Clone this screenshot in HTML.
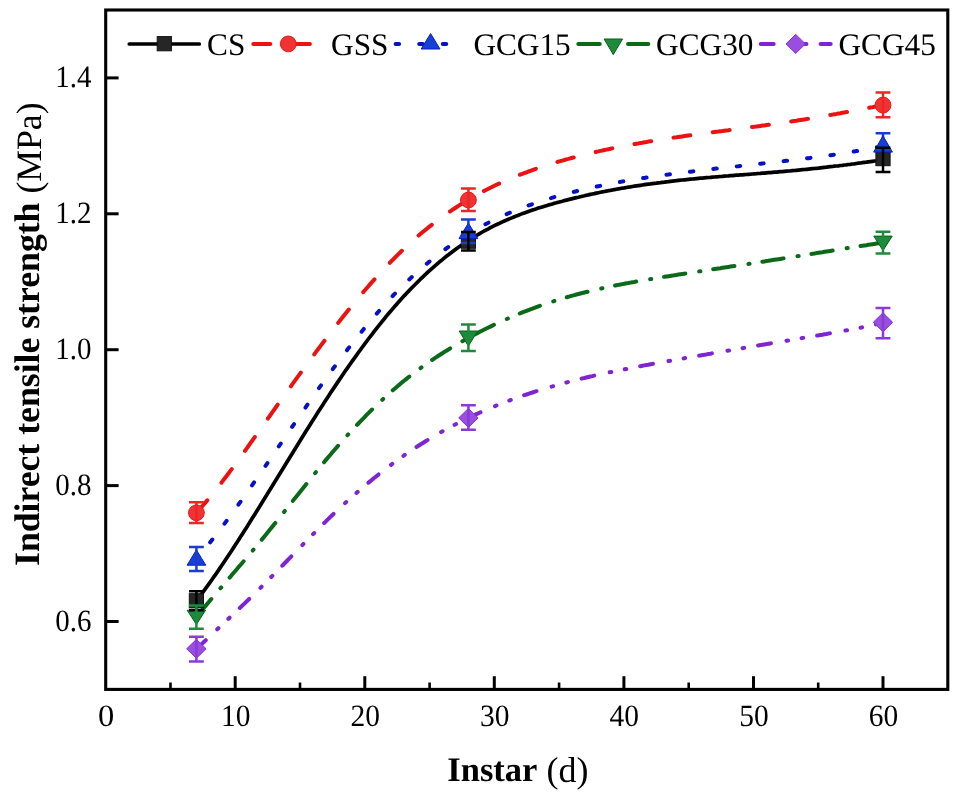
<!DOCTYPE html>
<html><head><meta charset="utf-8"><style>
html,body{margin:0;padding:0;background:#fff;overflow:hidden;}
svg{display:block;filter:blur(0.4px);}
text{font-family:"Liberation Serif",serif;fill:#000;text-rendering:geometricPrecision;}
</style></head><body>
<svg width="963" height="798" viewBox="0 0 963 798">
<rect width="963" height="798" fill="#fff"/>
<path d="M196.4,600.8 L198.4,598.2 200.4,595.5 202.4,592.8 204.4,590.1 206.4,587.4 208.4,584.6 210.4,581.8 212.4,579.0 214.4,576.1 216.4,573.3 218.4,570.4 220.4,567.4 222.4,564.5 224.4,561.5 226.4,558.5 228.4,555.5 230.4,552.5 232.4,549.4 234.4,546.4 236.4,543.3 238.4,540.2 240.4,537.1 242.4,534.0 244.4,530.8 246.4,527.7 248.4,524.5 250.4,521.3 252.4,518.1 254.4,514.9 256.4,511.7 258.4,508.5 260.4,505.3 262.4,502.0 264.4,498.8 266.4,495.5 268.4,492.3 270.4,489.0 272.4,485.8 274.4,482.5 276.4,479.3 278.4,476.0 280.4,472.7 282.4,469.5 284.4,466.2 286.4,463.0 288.4,459.7 290.4,456.5 292.4,453.2 294.4,450.0 296.4,446.7 298.4,443.5 300.4,440.3 302.4,437.0 304.4,433.8 306.4,430.6 308.4,427.4 310.4,424.2 312.4,421.1 314.4,417.9 316.4,414.8 318.4,411.6 320.4,408.5 322.4,405.4 324.4,402.3 326.4,399.2 328.4,396.2 330.4,393.1 332.4,390.1 334.4,387.1 336.4,384.1 338.4,381.1 340.4,378.2 342.4,375.2 344.4,372.3 346.4,369.4 348.4,366.6 350.4,363.7 352.4,360.9 354.4,358.1 356.4,355.3 358.4,352.5 360.4,349.8 362.4,347.0 364.4,344.3 366.4,341.7 368.4,339.0 370.4,336.4 372.4,333.8 374.4,331.2 376.4,328.6 378.4,326.1 380.4,323.6 382.4,321.1 384.4,318.7 386.4,316.2 388.4,313.8 390.4,311.5 392.4,309.1 394.4,306.8 396.4,304.5 398.4,302.3 400.4,300.0 402.4,297.8 404.4,295.6 406.4,293.5 408.4,291.4 410.4,289.3 412.4,287.2 414.4,285.2 416.4,283.2 418.4,281.2 420.4,279.2 422.4,277.3 424.4,275.4 426.4,273.5 428.4,271.7 430.4,269.9 432.4,268.1 434.4,266.3 436.4,264.6 438.4,262.9 440.4,261.2 442.4,259.6 444.4,257.9 446.4,256.3 448.4,254.8 450.4,253.2 452.4,251.7 454.4,250.2 456.4,248.7 458.4,247.3 460.4,245.9 462.4,244.5 464.4,243.1 466.4,241.8 468.4,240.5 470.4,239.2 472.4,238.0 474.4,236.7 476.4,235.5 478.4,234.3 480.4,233.2 482.4,232.0 484.4,230.9 486.4,229.8 488.4,228.8 490.4,227.7 492.4,226.7 494.4,225.7 496.4,224.7 498.4,223.8 500.4,222.8 502.4,221.9 504.4,221.0 506.4,220.1 508.4,219.2 510.4,218.4 512.4,217.6 514.4,216.7 516.4,215.9 518.4,215.2 520.4,214.4 522.4,213.6 524.4,212.9 526.4,212.2 528.4,211.5 530.4,210.8 532.4,210.1 534.4,209.4 536.4,208.8 538.4,208.1 540.4,207.5 542.4,206.9 544.4,206.3 546.4,205.7 548.4,205.1 550.4,204.5 552.4,203.9 554.4,203.3 556.4,202.8 558.4,202.2 560.4,201.7 562.4,201.2 564.4,200.6 566.4,200.1 568.4,199.6 570.4,199.1 572.4,198.6 574.4,198.1 576.4,197.6 578.4,197.2 580.4,196.7 582.4,196.2 584.4,195.8 586.4,195.3 588.4,194.9 590.4,194.4 592.4,194.0 594.4,193.6 596.4,193.1 598.4,192.7 600.4,192.3 602.4,191.9 604.4,191.5 606.4,191.1 608.4,190.7 610.4,190.4 612.4,190.0 614.4,189.6 616.4,189.2 618.4,188.9 620.4,188.5 622.4,188.2 624.4,187.9 626.4,187.5 628.4,187.2 630.4,186.9 632.4,186.5 634.4,186.2 636.4,185.9 638.4,185.6 640.4,185.3 642.4,185.0 644.4,184.7 646.4,184.4 648.4,184.1 650.4,183.9 652.4,183.6 654.4,183.3 656.4,183.1 658.4,182.8 660.4,182.6 662.4,182.3 664.4,182.1 666.4,181.8 668.4,181.6 670.4,181.3 672.4,181.1 674.4,180.9 676.4,180.7 678.4,180.4 680.4,180.2 682.4,180.0 684.4,179.8 686.4,179.6 688.4,179.4 690.4,179.2 692.4,179.0 694.4,178.8 696.4,178.6 698.4,178.4 700.4,178.2 702.4,178.1 704.4,177.9 706.4,177.7 708.4,177.5 710.4,177.4 712.4,177.2 714.4,177.0 716.4,176.8 718.4,176.7 720.4,176.5 722.4,176.4 724.4,176.2 726.4,176.0 728.4,175.9 730.4,175.7 732.4,175.6 734.4,175.4 736.4,175.2 738.4,175.1 740.4,174.9 742.4,174.8 744.4,174.6 746.4,174.5 748.4,174.3 750.4,174.2 752.4,174.0 754.4,173.8 756.4,173.7 758.4,173.5 760.4,173.4 762.4,173.2 764.4,173.1 766.4,172.9 768.4,172.7 770.4,172.6 772.4,172.4 774.4,172.2 776.4,172.1 778.4,171.9 780.4,171.7 782.4,171.6 784.4,171.4 786.4,171.2 788.4,171.0 790.4,170.9 792.4,170.7 794.4,170.5 796.4,170.3 798.4,170.1 800.4,169.9 802.4,169.7 804.4,169.5 806.4,169.3 808.4,169.1 810.4,168.9 812.4,168.7 814.4,168.5 816.4,168.3 818.4,168.1 820.4,167.8 822.4,167.6 824.4,167.4 826.4,167.2 828.4,166.9 830.4,166.7 832.4,166.5 834.4,166.2 836.4,166.0 838.4,165.8 840.4,165.5 842.4,165.3 844.4,165.0 846.4,164.8 848.4,164.5 850.4,164.3 852.4,164.0 854.4,163.8 856.4,163.5 858.4,163.2 860.4,163.0 862.4,162.7 864.4,162.4 866.4,162.2 868.4,161.9 870.4,161.6 872.4,161.3 874.4,161.0 876.4,160.8 878.4,160.5 880.4,160.2 882.4,159.9 883.0,159.8" fill="none" stroke="#000" stroke-width="3.7" stroke-linecap="round" stroke-linejoin="round"/>
<path d="M196.4,512.7 L198.4,510.5 200.4,508.3 202.4,506.0 204.4,503.7 206.4,501.4 208.4,499.0 210.4,496.6 212.4,494.1 214.4,491.6 216.4,489.1 218.4,486.6 220.4,484.0 222.4,481.4 224.4,478.8 226.4,476.2 228.4,473.5 230.4,470.9 232.4,468.2 234.4,465.4 236.4,462.7 238.4,460.0 240.4,457.2 242.4,454.4 244.4,451.6 246.4,448.8 248.4,446.0 250.4,443.2 252.4,440.4 254.4,437.6 256.4,434.8 258.4,431.9 260.4,429.1 262.4,426.3 264.4,423.5 266.4,420.6 268.4,417.8 270.4,415.0 272.4,412.2 274.4,409.4 276.4,406.5 278.4,403.7 280.4,400.9 282.4,398.1 284.4,395.3 286.4,392.5 288.4,389.7 290.4,387.0 292.4,384.2 294.4,381.4 296.4,378.6 298.4,375.9 300.4,373.1 302.4,370.4 304.4,367.6 306.4,364.9 308.4,362.2 310.4,359.5 312.4,356.8 314.4,354.1 316.4,351.4 318.4,348.7 320.4,346.1 322.4,343.4 324.4,340.8 326.4,338.1 328.4,335.5 330.4,332.9 332.4,330.3 334.4,327.7 336.4,325.2 338.4,322.6 340.4,320.1 342.4,317.5 344.4,315.0 346.4,312.5 348.4,310.0 350.4,307.6 352.4,305.1 354.4,302.7 356.4,300.3 358.4,297.9 360.4,295.5 362.4,293.1 364.4,290.8 366.4,288.5 368.4,286.2 370.4,283.9 372.4,281.6 374.4,279.4 376.4,277.1 378.4,274.9 380.4,272.7 382.4,270.6 384.4,268.4 386.4,266.3 388.4,264.2 390.4,262.2 392.4,260.1 394.4,258.1 396.4,256.1 398.4,254.1 400.4,252.2 402.4,250.2 404.4,248.3 406.4,246.5 408.4,244.6 410.4,242.8 412.4,241.0 414.4,239.2 416.4,237.5 418.4,235.7 420.4,234.0 422.4,232.3 424.4,230.7 426.4,229.1 428.4,227.4 430.4,225.9 432.4,224.3 434.4,222.7 436.4,221.2 438.4,219.7 440.4,218.2 442.4,216.8 444.4,215.3 446.4,213.9 448.4,212.5 450.4,211.2 452.4,209.8 454.4,208.5 456.4,207.2 458.4,205.9 460.4,204.6 462.4,203.3 464.4,202.1 466.4,200.9 468.4,199.7 470.4,198.5 472.4,197.4 474.4,196.2 476.4,195.1 478.4,194.0 480.4,192.9 482.4,191.9 484.4,190.8 486.4,189.8 488.4,188.8 490.4,187.8 492.4,186.8 494.4,185.8 496.4,184.8 498.4,183.9 500.4,183.0 502.4,182.1 504.4,181.2 506.4,180.3 508.4,179.4 510.4,178.6 512.4,177.8 514.4,176.9 516.4,176.1 518.4,175.3 520.4,174.5 522.4,173.8 524.4,173.0 526.4,172.3 528.4,171.5 530.4,170.8 532.4,170.1 534.4,169.4 536.4,168.7 538.4,168.0 540.4,167.3 542.4,166.7 544.4,166.0 546.4,165.4 548.4,164.7 550.4,164.1 552.4,163.5 554.4,162.9 556.4,162.3 558.4,161.7 560.4,161.1 562.4,160.6 564.4,160.0 566.4,159.4 568.4,158.9 570.4,158.3 572.4,157.8 574.4,157.3 576.4,156.7 578.4,156.2 580.4,155.7 582.4,155.2 584.4,154.7 586.4,154.2 588.4,153.7 590.4,153.2 592.4,152.8 594.4,152.3 596.4,151.8 598.4,151.4 600.4,150.9 602.4,150.5 604.4,150.0 606.4,149.6 608.4,149.2 610.4,148.8 612.4,148.3 614.4,147.9 616.4,147.5 618.4,147.1 620.4,146.7 622.4,146.3 624.4,145.9 626.4,145.6 628.4,145.2 630.4,144.8 632.4,144.4 634.4,144.1 636.4,143.7 638.4,143.4 640.4,143.0 642.4,142.7 644.4,142.3 646.4,142.0 648.4,141.6 650.4,141.3 652.4,141.0 654.4,140.6 656.4,140.3 658.4,140.0 660.4,139.7 662.4,139.4 664.4,139.1 666.4,138.7 668.4,138.4 670.4,138.1 672.4,137.8 674.4,137.5 676.4,137.3 678.4,137.0 680.4,136.7 682.4,136.4 684.4,136.1 686.4,135.8 688.4,135.5 690.4,135.3 692.4,135.0 694.4,134.7 696.4,134.4 698.4,134.2 700.4,133.9 702.4,133.6 704.4,133.3 706.4,133.1 708.4,132.8 710.4,132.5 712.4,132.3 714.4,132.0 716.4,131.7 718.4,131.5 720.4,131.2 722.4,131.0 724.4,130.7 726.4,130.4 728.4,130.2 730.4,129.9 732.4,129.6 734.4,129.4 736.4,129.1 738.4,128.9 740.4,128.6 742.4,128.3 744.4,128.1 746.4,127.8 748.4,127.5 750.4,127.3 752.4,127.0 754.4,126.7 756.4,126.5 758.4,126.2 760.4,125.9 762.4,125.6 764.4,125.4 766.4,125.1 768.4,124.8 770.4,124.5 772.4,124.2 774.4,124.0 776.4,123.7 778.4,123.4 780.4,123.1 782.4,122.8 784.4,122.5 786.4,122.2 788.4,121.9 790.4,121.6 792.4,121.3 794.4,121.0 796.4,120.7 798.4,120.3 800.4,120.0 802.4,119.7 804.4,119.4 806.4,119.1 808.4,118.7 810.4,118.4 812.4,118.1 814.4,117.7 816.4,117.4 818.4,117.0 820.4,116.7 822.4,116.4 824.4,116.0 826.4,115.7 828.4,115.3 830.4,115.0 832.4,114.6 834.4,114.2 836.4,113.9 838.4,113.5 840.4,113.2 842.4,112.8 844.4,112.4 846.4,112.1 848.4,111.7 850.4,111.3 852.4,110.9 854.4,110.6 856.4,110.2 858.4,109.8 860.4,109.4 862.4,109.1 864.4,108.7 866.4,108.3 868.4,107.9 870.4,107.5 872.4,107.2 874.4,106.8 876.4,106.4 878.4,106.0 880.4,105.6 882.4,105.2 883.0,105.1" fill="none" stroke="#ec1212" stroke-width="4" stroke-linecap="round" stroke-linejoin="round" stroke-dasharray="17 22.6" stroke-dashoffset="0.5"/>
<path d="M196.4,559.1 L198.4,556.7 200.4,554.3 202.4,551.9 204.4,549.5 206.4,547.0 208.4,544.5 210.4,542.0 212.4,539.5 214.4,536.9 216.4,534.3 218.4,531.7 220.4,529.1 222.4,526.4 224.4,523.8 226.4,521.1 228.4,518.4 230.4,515.7 232.4,512.9 234.4,510.2 236.4,507.4 238.4,504.6 240.4,501.9 242.4,499.0 244.4,496.2 246.4,493.4 248.4,490.6 250.4,487.7 252.4,484.8 254.4,482.0 256.4,479.1 258.4,476.2 260.4,473.3 262.4,470.4 264.4,467.5 266.4,464.6 268.4,461.7 270.4,458.7 272.4,455.8 274.4,452.9 276.4,450.0 278.4,447.0 280.4,444.1 282.4,441.2 284.4,438.2 286.4,435.3 288.4,432.4 290.4,429.4 292.4,426.5 294.4,423.6 296.4,420.7 298.4,417.8 300.4,414.9 302.4,412.0 304.4,409.1 306.4,406.2 308.4,403.3 310.4,400.4 312.4,397.6 314.4,394.7 316.4,391.9 318.4,389.0 320.4,386.2 322.4,383.4 324.4,380.6 326.4,377.9 328.4,375.1 330.4,372.3 332.4,369.6 334.4,366.9 336.4,364.2 338.4,361.5 340.4,358.8 342.4,356.2 344.4,353.5 346.4,350.9 348.4,348.3 350.4,345.8 352.4,343.2 354.4,340.7 356.4,338.1 358.4,335.6 360.4,333.1 362.4,330.7 364.4,328.2 366.4,325.8 368.4,323.4 370.4,321.0 372.4,318.7 374.4,316.3 376.4,314.0 378.4,311.7 380.4,309.5 382.4,307.2 384.4,305.0 386.4,302.8 388.4,300.6 390.4,298.5 392.4,296.3 394.4,294.2 396.4,292.2 398.4,290.1 400.4,288.1 402.4,286.1 404.4,284.1 406.4,282.2 408.4,280.3 410.4,278.4 412.4,276.5 414.4,274.6 416.4,272.8 418.4,271.0 420.4,269.3 422.4,267.5 424.4,265.8 426.4,264.1 428.4,262.4 430.4,260.8 432.4,259.2 434.4,257.6 436.4,256.0 438.4,254.4 440.4,252.9 442.4,251.4 444.4,249.9 446.4,248.4 448.4,247.0 450.4,245.6 452.4,244.2 454.4,242.8 456.4,241.5 458.4,240.1 460.4,238.8 462.4,237.5 464.4,236.3 466.4,235.0 468.4,233.8 470.4,232.6 472.4,231.4 474.4,230.3 476.4,229.1 478.4,228.0 480.4,226.9 482.4,225.8 484.4,224.7 486.4,223.7 488.4,222.7 490.4,221.6 492.4,220.7 494.4,219.7 496.4,218.7 498.4,217.8 500.4,216.8 502.4,215.9 504.4,215.0 506.4,214.2 508.4,213.3 510.4,212.5 512.4,211.6 514.4,210.8 516.4,210.0 518.4,209.2 520.4,208.4 522.4,207.7 524.4,206.9 526.4,206.2 528.4,205.5 530.4,204.8 532.4,204.1 534.4,203.4 536.4,202.7 538.4,202.0 540.4,201.4 542.4,200.7 544.4,200.1 546.4,199.5 548.4,198.9 550.4,198.3 552.4,197.7 554.4,197.1 556.4,196.5 558.4,196.0 560.4,195.4 562.4,194.8 564.4,194.3 566.4,193.8 568.4,193.2 570.4,192.7 572.4,192.2 574.4,191.7 576.4,191.2 578.4,190.7 580.4,190.2 582.4,189.8 584.4,189.3 586.4,188.8 588.4,188.4 590.4,187.9 592.4,187.5 594.4,187.0 596.4,186.6 598.4,186.2 600.4,185.8 602.4,185.4 604.4,184.9 606.4,184.5 608.4,184.1 610.4,183.8 612.4,183.4 614.4,183.0 616.4,182.6 618.4,182.3 620.4,181.9 622.4,181.5 624.4,181.2 626.4,180.8 628.4,180.5 630.4,180.2 632.4,179.8 634.4,179.5 636.4,179.2 638.4,178.8 640.4,178.5 642.4,178.2 644.4,177.9 646.4,177.6 648.4,177.3 650.4,177.0 652.4,176.7 654.4,176.4 656.4,176.1 658.4,175.8 660.4,175.6 662.4,175.3 664.4,175.0 666.4,174.7 668.4,174.5 670.4,174.2 672.4,173.9 674.4,173.7 676.4,173.4 678.4,173.2 680.4,172.9 682.4,172.7 684.4,172.4 686.4,172.2 688.4,171.9 690.4,171.7 692.4,171.4 694.4,171.2 696.4,170.9 698.4,170.7 700.4,170.5 702.4,170.2 704.4,170.0 706.4,169.8 708.4,169.5 710.4,169.3 712.4,169.1 714.4,168.8 716.4,168.6 718.4,168.4 720.4,168.2 722.4,167.9 724.4,167.7 726.4,167.5 728.4,167.3 730.4,167.0 732.4,166.8 734.4,166.6 736.4,166.4 738.4,166.2 740.4,165.9 742.4,165.7 744.4,165.5 746.4,165.3 748.4,165.1 750.4,164.8 752.4,164.6 754.4,164.4 756.4,164.2 758.4,164.0 760.4,163.7 762.4,163.5 764.4,163.3 766.4,163.1 768.4,162.9 770.4,162.6 772.4,162.4 774.4,162.2 776.4,162.0 778.4,161.7 780.4,161.5 782.4,161.3 784.4,161.0 786.4,160.8 788.4,160.6 790.4,160.3 792.4,160.1 794.4,159.9 796.4,159.6 798.4,159.4 800.4,159.1 802.4,158.9 804.4,158.7 806.4,158.4 808.4,158.2 810.4,157.9 812.4,157.6 814.4,157.4 816.4,157.1 818.4,156.9 820.4,156.6 822.4,156.3 824.4,156.0 826.4,155.8 828.4,155.5 830.4,155.2 832.4,154.9 834.4,154.6 836.4,154.3 838.4,154.0 840.4,153.7 842.4,153.4 844.4,153.1 846.4,152.8 848.4,152.4 850.4,152.1 852.4,151.8 854.4,151.4 856.4,151.1 858.4,150.8 860.4,150.4 862.4,150.0 864.4,149.7 866.4,149.3 868.4,148.9 870.4,148.6 872.4,148.2 874.4,147.8 876.4,147.4 878.4,147.0 880.4,146.5 882.4,146.1 883.0,146.0" fill="none" stroke="#0510c8" stroke-width="4" stroke-linecap="round" stroke-linejoin="round" stroke-dasharray="3.5 20.09" stroke-dashoffset="1.89"/>
<path d="M196.4,617.1 L198.4,614.6 200.4,612.2 202.4,609.7 204.4,607.3 206.4,604.9 208.4,602.5 210.4,600.1 212.4,597.8 214.4,595.4 216.4,593.0 218.4,590.7 220.4,588.3 222.4,586.0 224.4,583.7 226.4,581.3 228.4,579.0 230.4,576.7 232.4,574.3 234.4,572.0 236.4,569.7 238.4,567.3 240.4,565.0 242.4,562.7 244.4,560.3 246.4,558.0 248.4,555.6 250.4,553.3 252.4,550.9 254.4,548.5 256.4,546.1 258.4,543.7 260.4,541.3 262.4,538.9 264.4,536.4 266.4,534.0 268.4,531.5 270.4,529.0 272.4,526.6 274.4,524.1 276.4,521.6 278.4,519.1 280.4,516.6 282.4,514.1 284.4,511.5 286.4,509.0 288.4,506.5 290.4,504.0 292.4,501.5 294.4,498.9 296.4,496.4 298.4,493.9 300.4,491.4 302.4,488.9 304.4,486.4 306.4,483.9 308.4,481.4 310.4,478.9 312.4,476.4 314.4,474.0 316.4,471.5 318.4,469.1 320.4,466.6 322.4,464.2 324.4,461.8 326.4,459.4 328.4,457.0 330.4,454.7 332.4,452.3 334.4,450.0 336.4,447.7 338.4,445.4 340.4,443.1 342.4,440.9 344.4,438.6 346.4,436.4 348.4,434.2 350.4,432.0 352.4,429.9 354.4,427.7 356.4,425.6 358.4,423.5 360.4,421.4 362.4,419.3 364.4,417.3 366.4,415.2 368.4,413.2 370.4,411.2 372.4,409.2 374.4,407.3 376.4,405.4 378.4,403.4 380.4,401.6 382.4,399.7 384.4,397.8 386.4,396.0 388.4,394.2 390.4,392.4 392.4,390.6 394.4,388.9 396.4,387.2 398.4,385.5 400.4,383.8 402.4,382.1 404.4,380.5 406.4,378.9 408.4,377.3 410.4,375.7 412.4,374.2 414.4,372.7 416.4,371.1 418.4,369.7 420.4,368.2 422.4,366.7 424.4,365.3 426.4,363.9 428.4,362.5 430.4,361.1 432.4,359.8 434.4,358.4 436.4,357.1 438.4,355.8 440.4,354.5 442.4,353.2 444.4,351.9 446.4,350.7 448.4,349.5 450.4,348.2 452.4,347.0 454.4,345.9 456.4,344.7 458.4,343.5 460.4,342.4 462.4,341.2 464.4,340.1 466.4,339.0 468.4,337.9 470.4,336.8 472.4,335.7 474.4,334.7 476.4,333.6 478.4,332.6 480.4,331.5 482.4,330.5 484.4,329.5 486.4,328.5 488.4,327.5 490.4,326.6 492.4,325.6 494.4,324.6 496.4,323.7 498.4,322.8 500.4,321.9 502.4,320.9 504.4,320.0 506.4,319.2 508.4,318.3 510.4,317.4 512.4,316.6 514.4,315.7 516.4,314.9 518.4,314.1 520.4,313.2 522.4,312.4 524.4,311.6 526.4,310.9 528.4,310.1 530.4,309.3 532.4,308.6 534.4,307.8 536.4,307.1 538.4,306.4 540.4,305.7 542.4,305.0 544.4,304.3 546.4,303.6 548.4,302.9 550.4,302.3 552.4,301.6 554.4,301.0 556.4,300.3 558.4,299.7 560.4,299.1 562.4,298.5 564.4,297.9 566.4,297.3 568.4,296.8 570.4,296.2 572.4,295.6 574.4,295.1 576.4,294.5 578.4,294.0 580.4,293.5 582.4,293.0 584.4,292.5 586.4,292.0 588.4,291.5 590.4,291.0 592.4,290.5 594.4,290.0 596.4,289.6 598.4,289.1 600.4,288.7 602.4,288.2 604.4,287.8 606.4,287.3 608.4,286.9 610.4,286.5 612.4,286.1 614.4,285.7 616.4,285.3 618.4,284.9 620.4,284.5 622.4,284.1 624.4,283.7 626.4,283.3 628.4,283.0 630.4,282.6 632.4,282.2 634.4,281.9 636.4,281.5 638.4,281.2 640.4,280.8 642.4,280.5 644.4,280.1 646.4,279.8 648.4,279.4 650.4,279.1 652.4,278.8 654.4,278.4 656.4,278.1 658.4,277.8 660.4,277.5 662.4,277.1 664.4,276.8 666.4,276.5 668.4,276.2 670.4,275.9 672.4,275.6 674.4,275.2 676.4,274.9 678.4,274.6 680.4,274.3 682.4,274.0 684.4,273.7 686.4,273.4 688.4,273.1 690.4,272.8 692.4,272.5 694.4,272.1 696.4,271.8 698.4,271.5 700.4,271.2 702.4,270.9 704.4,270.6 706.4,270.3 708.4,270.0 710.4,269.7 712.4,269.4 714.4,269.1 716.4,268.8 718.4,268.5 720.4,268.2 722.4,267.8 724.4,267.5 726.4,267.2 728.4,266.9 730.4,266.6 732.4,266.3 734.4,266.0 736.4,265.7 738.4,265.4 740.4,265.1 742.4,264.8 744.4,264.5 746.4,264.2 748.4,263.9 750.4,263.5 752.4,263.2 754.4,262.9 756.4,262.6 758.4,262.3 760.4,262.0 762.4,261.7 764.4,261.4 766.4,261.1 768.4,260.8 770.4,260.4 772.4,260.1 774.4,259.8 776.4,259.5 778.4,259.2 780.4,258.9 782.4,258.6 784.4,258.2 786.4,257.9 788.4,257.6 790.4,257.3 792.4,257.0 794.4,256.7 796.4,256.3 798.4,256.0 800.4,255.7 802.4,255.4 804.4,255.1 806.4,254.7 808.4,254.4 810.4,254.1 812.4,253.8 814.4,253.5 816.4,253.1 818.4,252.8 820.4,252.5 822.4,252.2 824.4,251.8 826.4,251.5 828.4,251.2 830.4,250.9 832.4,250.6 834.4,250.2 836.4,249.9 838.4,249.6 840.4,249.3 842.4,248.9 844.4,248.6 846.4,248.3 848.4,248.0 850.4,247.7 852.4,247.4 854.4,247.0 856.4,246.7 858.4,246.4 860.4,246.1 862.4,245.8 864.4,245.5 866.4,245.2 868.4,244.8 870.4,244.5 872.4,244.2 874.4,243.9 876.4,243.6 878.4,243.3 880.4,243.0 882.4,242.7 883.0,242.6" fill="none" stroke="#0b6a18" stroke-width="4" stroke-linecap="round" stroke-linejoin="round" stroke-dasharray="21.5 14.09 1.2 12.94" stroke-dashoffset="-1.9"/>
<path d="M196.4,649.2 L198.4,647.3 200.4,645.3 202.4,643.4 204.4,641.5 206.4,639.6 208.4,637.7 210.4,635.8 212.4,633.9 214.4,632.0 216.4,630.1 218.4,628.2 220.4,626.4 222.4,624.5 224.4,622.6 226.4,620.7 228.4,618.8 230.4,616.9 232.4,615.0 234.4,613.1 236.4,611.2 238.4,609.3 240.4,607.4 242.4,605.5 244.4,603.6 246.4,601.6 248.4,599.7 250.4,597.8 252.4,595.8 254.4,593.9 256.4,591.9 258.4,589.9 260.4,587.9 262.4,585.9 264.4,583.9 266.4,581.9 268.4,579.9 270.4,577.9 272.4,575.8 274.4,573.8 276.4,571.8 278.4,569.7 280.4,567.7 282.4,565.6 284.4,563.5 286.4,561.5 288.4,559.4 290.4,557.3 292.4,555.3 294.4,553.2 296.4,551.2 298.4,549.1 300.4,547.0 302.4,545.0 304.4,542.9 306.4,540.9 308.4,538.8 310.4,536.8 312.4,534.8 314.4,532.8 316.4,530.7 318.4,528.7 320.4,526.7 322.4,524.8 324.4,522.8 326.4,520.8 328.4,518.9 330.4,516.9 332.4,515.0 334.4,513.1 336.4,511.2 338.4,509.3 340.4,507.4 342.4,505.6 344.4,503.7 346.4,501.9 348.4,500.1 350.4,498.3 352.4,496.5 354.4,494.7 356.4,493.0 358.4,491.2 360.4,489.5 362.4,487.8 364.4,486.1 366.4,484.4 368.4,482.7 370.4,481.1 372.4,479.4 374.4,477.8 376.4,476.2 378.4,474.6 380.4,473.0 382.4,471.4 384.4,469.9 386.4,468.3 388.4,466.8 390.4,465.3 392.4,463.8 394.4,462.3 396.4,460.9 398.4,459.4 400.4,458.0 402.4,456.6 404.4,455.2 406.4,453.8 408.4,452.4 410.4,451.1 412.4,449.7 414.4,448.4 416.4,447.1 418.4,445.8 420.4,444.5 422.4,443.3 424.4,442.0 426.4,440.8 428.4,439.6 430.4,438.4 432.4,437.2 434.4,436.0 436.4,434.8 438.4,433.7 440.4,432.5 442.4,431.4 444.4,430.3 446.4,429.2 448.4,428.1 450.4,427.0 452.4,426.0 454.4,424.9 456.4,423.9 458.4,422.8 460.4,421.8 462.4,420.8 464.4,419.8 466.4,418.9 468.4,417.9 470.4,416.9 472.4,416.0 474.4,415.1 476.4,414.1 478.4,413.2 480.4,412.3 482.4,411.5 484.4,410.6 486.4,409.7 488.4,408.9 490.4,408.0 492.4,407.2 494.4,406.4 496.4,405.5 498.4,404.7 500.4,403.9 502.4,403.2 504.4,402.4 506.4,401.6 508.4,400.9 510.4,400.1 512.4,399.4 514.4,398.6 516.4,397.9 518.4,397.2 520.4,396.5 522.4,395.8 524.4,395.1 526.4,394.5 528.4,393.8 530.4,393.1 532.4,392.5 534.4,391.8 536.4,391.2 538.4,390.6 540.4,389.9 542.4,389.3 544.4,388.7 546.4,388.1 548.4,387.5 550.4,386.9 552.4,386.4 554.4,385.8 556.4,385.2 558.4,384.7 560.4,384.1 562.4,383.6 564.4,383.0 566.4,382.5 568.4,382.0 570.4,381.5 572.4,380.9 574.4,380.4 576.4,379.9 578.4,379.4 580.4,378.9 582.4,378.4 584.4,378.0 586.4,377.5 588.4,377.0 590.4,376.5 592.4,376.1 594.4,375.6 596.4,375.2 598.4,374.7 600.4,374.3 602.4,373.8 604.4,373.4 606.4,373.0 608.4,372.5 610.4,372.1 612.4,371.7 614.4,371.3 616.4,370.9 618.4,370.5 620.4,370.1 622.4,369.7 624.4,369.3 626.4,368.9 628.4,368.5 630.4,368.1 632.4,367.7 634.4,367.3 636.4,366.9 638.4,366.5 640.4,366.2 642.4,365.8 644.4,365.4 646.4,365.0 648.4,364.7 650.4,364.3 652.4,363.9 654.4,363.6 656.4,363.2 658.4,362.9 660.4,362.5 662.4,362.1 664.4,361.8 666.4,361.4 668.4,361.1 670.4,360.7 672.4,360.4 674.4,360.0 676.4,359.6 678.4,359.3 680.4,358.9 682.4,358.6 684.4,358.2 686.4,357.9 688.4,357.5 690.4,357.2 692.4,356.8 694.4,356.5 696.4,356.1 698.4,355.8 700.4,355.4 702.4,355.1 704.4,354.7 706.4,354.4 708.4,354.0 710.4,353.7 712.4,353.3 714.4,353.0 716.4,352.6 718.4,352.3 720.4,352.0 722.4,351.6 724.4,351.3 726.4,350.9 728.4,350.6 730.4,350.2 732.4,349.9 734.4,349.5 736.4,349.2 738.4,348.8 740.4,348.5 742.4,348.2 744.4,347.8 746.4,347.5 748.4,347.1 750.4,346.8 752.4,346.4 754.4,346.1 756.4,345.8 758.4,345.4 760.4,345.1 762.4,344.7 764.4,344.4 766.4,344.1 768.4,343.7 770.4,343.4 772.4,343.1 774.4,342.7 776.4,342.4 778.4,342.0 780.4,341.7 782.4,341.4 784.4,341.0 786.4,340.7 788.4,340.4 790.4,340.0 792.4,339.7 794.4,339.4 796.4,339.0 798.4,338.7 800.4,338.4 802.4,338.0 804.4,337.7 806.4,337.4 808.4,337.0 810.4,336.7 812.4,336.4 814.4,336.0 816.4,335.7 818.4,335.4 820.4,335.0 822.4,334.7 824.4,334.3 826.4,334.0 828.4,333.6 830.4,333.3 832.4,332.9 834.4,332.6 836.4,332.2 838.4,331.9 840.4,331.5 842.4,331.1 844.4,330.8 846.4,330.4 848.4,330.0 850.4,329.6 852.4,329.2 854.4,328.8 856.4,328.5 858.4,328.1 860.4,327.7 862.4,327.3 864.4,326.8 866.4,326.4 868.4,326.0 870.4,325.6 872.4,325.2 874.4,324.7 876.4,324.3 878.4,323.8 880.4,323.4 882.4,322.9 883.0,322.8" fill="none" stroke="#7e24d2" stroke-width="4" stroke-linecap="round" stroke-linejoin="round" stroke-dasharray="13 15.8 1.6 13.73 1.6 14.15" stroke-dashoffset="0"/>
<rect x="189.3" y="593.7" width="14.2" height="14.2" fill="#262626" stroke="#111" stroke-width="1"/>
<circle cx="196.4" cy="512.8" r="7.9" fill="#f03232" stroke="#e31a1a" stroke-width="1"/>
<path d="M196.4,549.9 L205.8,565.2 L187.1,565.2Z" fill="#1440d4" stroke="#0a1cc0" stroke-width="1"/>
<path d="M196.4,624.5 L205.6,610.2 L187.2,610.2Z" fill="#1e8a3c" stroke="#006018" stroke-width="1"/>
<path d="M196.4,639.3 L206.1,648.8 L196.4,658.3 L186.7,648.8Z" fill="#9a4ee0" stroke="#8430d4" stroke-width="1"/>
<path d="M196.4,591.3V610.3M189.0,591.3H203.8M189.0,610.3H203.8" stroke="#000" stroke-width="2.5" fill="none"/>
<path d="M196.4,502.3V523.1M189.0,502.3H203.8M189.0,523.1H203.8" stroke="#ea2626" stroke-width="2.5" fill="none"/>
<path d="M196.4,547.1V571.1M189.0,547.1H203.8M189.0,571.1H203.8" stroke="#1a3cd0" stroke-width="2.5" fill="none"/>
<path d="M196.4,605.5V628.7M189.0,605.5H203.8M189.0,628.7H203.8" stroke="#1e8a3c" stroke-width="2.5" fill="none"/>
<path d="M196.4,636.8V661.6M189.0,636.8H203.8M189.0,661.6H203.8" stroke="#8a3ad8" stroke-width="2.5" fill="none"/>
<rect x="461.3" y="234.1" width="14.2" height="14.2" fill="#262626" stroke="#111" stroke-width="1"/>
<circle cx="468.4" cy="200.0" r="7.9" fill="#f03232" stroke="#e31a1a" stroke-width="1"/>
<path d="M468.4,223.0 L477.8,238.6 L459.0,238.6Z" fill="#1440d4" stroke="#0a1cc0" stroke-width="1"/>
<path d="M468.4,346.1 L477.6,331.0 L459.2,331.0Z" fill="#1e8a3c" stroke="#006018" stroke-width="1"/>
<path d="M468.4,408.4 L478.1,417.9 L468.4,427.4 L458.7,417.9Z" fill="#9a4ee0" stroke="#8430d4" stroke-width="1"/>
<path d="M468.4,188.5V210.9M461.0,188.5H475.8M461.0,210.9H475.8" stroke="#ea2626" stroke-width="2.5" fill="none"/>
<path d="M468.4,219.5V243.0M461.0,219.5H475.8M461.0,243.0H475.8" stroke="#1a3cd0" stroke-width="2.5" fill="none"/>
<path d="M468.4,232.0V250.4M461.0,232.0H475.8M461.0,250.4H475.8" stroke="#000" stroke-width="2.5" fill="none"/>
<path d="M468.4,324.5V351.1M461.0,324.5H475.8M461.0,351.1H475.8" stroke="#1e8a3c" stroke-width="2.5" fill="none"/>
<path d="M468.4,405.3V429.8M461.0,405.3H475.8M461.0,429.8H475.8" stroke="#8a3ad8" stroke-width="2.5" fill="none"/>
<path d="M883.0,133.3V146.0M875.6,133.3H890.4" stroke="#1a3cd0" stroke-width="2.5" fill="none"/>
<rect x="875.9" y="151.5" width="14.2" height="14.2" fill="#262626" stroke="#111" stroke-width="1"/>
<circle cx="883.0" cy="105.1" r="7.9" fill="#f03232" stroke="#e31a1a" stroke-width="1"/>
<path d="M883.0,135.8 L892.4,152.1 L873.6,152.1Z" fill="#1440d4" stroke="#0a1cc0" stroke-width="1"/>
<path d="M883.0,250.5 L892.2,236.1 L873.8,236.1Z" fill="#1e8a3c" stroke="#006018" stroke-width="1"/>
<path d="M883.0,312.8 L892.7,322.3 L883.0,331.8 L873.3,322.3Z" fill="#9a4ee0" stroke="#8430d4" stroke-width="1"/>
<path d="M883.0,147.8V171.9M875.6,147.8H890.4M875.6,171.9H890.4" stroke="#000" stroke-width="2.5" fill="none"/>
<path d="M883.0,92.5V117.2M875.6,92.5H890.4M875.6,117.2H890.4" stroke="#ea2626" stroke-width="2.5" fill="none"/>
<path d="M883.0,231.7V253.5M875.6,231.7H890.4M875.6,253.5H890.4" stroke="#1e8a3c" stroke-width="2.5" fill="none"/>
<path d="M883.0,307.9V338.3M875.6,307.9H890.4M875.6,338.3H890.4" stroke="#8a3ad8" stroke-width="2.5" fill="none"/>
<path d="M129.3,44.0H199.3" fill="none" stroke="#000" stroke-width="3.7" stroke-linecap="round" stroke-linejoin="round"/>
<rect x="157.2" y="36.6" width="14.2" height="14.2" fill="#262626" stroke="#111" stroke-width="1"/>
<path d="M253.3,44.0H323.3" fill="none" stroke="#ec1212" stroke-width="4" stroke-linecap="round" stroke-linejoin="round" stroke-dasharray="17 22.6" stroke-dashoffset="0"/>
<circle cx="288.3" cy="43.9" r="7.9" fill="#f03232" stroke="#e31a1a" stroke-width="1"/>
<path d="M395.6,44.0H465.6" fill="none" stroke="#0510c8" stroke-width="4" stroke-linecap="round" stroke-linejoin="round" stroke-dasharray="3.5 20.09" stroke-dashoffset="0"/>
<path d="M430.6,33.6 L440.0,49.0 L421.2,49.0Z" fill="#1440d4" stroke="#0a1cc0" stroke-width="1"/>
<path d="M578.3,44.0H648.3" fill="none" stroke="#0b6a18" stroke-width="4" stroke-linecap="round" stroke-linejoin="round" stroke-dasharray="21.5 14.09 1.2 12.94" stroke-dashoffset="0"/>
<path d="M613.3,54.6 L622.5,39.0 L604.1,39.0Z" fill="#1e8a3c" stroke="#006018" stroke-width="1"/>
<path d="M760.7,44.0H830.7" fill="none" stroke="#7e24d2" stroke-width="4" stroke-linecap="round" stroke-linejoin="round" stroke-dasharray="13 15.8 1.6 13.73 1.6 14.15" stroke-dashoffset="0"/>
<path d="M795.7,34.4 L805.4,43.9 L795.7,53.4 L786.0,43.9Z" fill="#9a4ee0" stroke="#8430d4" stroke-width="1"/>
<rect x="105.7" y="10" width="842.1" height="679.4" fill="none" stroke="#000" stroke-width="3.1"/>
<path d="M105.7,621.5H118.6" stroke="#000" stroke-width="3"/>
<path d="M105.7,485.6H118.6" stroke="#000" stroke-width="3"/>
<path d="M105.7,349.7H118.6" stroke="#000" stroke-width="3"/>
<path d="M105.7,213.8H118.6" stroke="#000" stroke-width="3"/>
<path d="M105.7,77.9H118.6" stroke="#000" stroke-width="3"/>
<path d="M170.5,689.4V682.5" stroke="#000" stroke-width="2.6"/>
<path d="M235.2,689.4V676.2" stroke="#000" stroke-width="3"/>
<path d="M300.0,689.4V682.5" stroke="#000" stroke-width="2.6"/>
<path d="M364.8,689.4V676.2" stroke="#000" stroke-width="3"/>
<path d="M429.6,689.4V682.5" stroke="#000" stroke-width="2.6"/>
<path d="M494.3,689.4V676.2" stroke="#000" stroke-width="3"/>
<path d="M559.1,689.4V682.5" stroke="#000" stroke-width="2.6"/>
<path d="M623.9,689.4V676.2" stroke="#000" stroke-width="3"/>
<path d="M688.7,689.4V682.5" stroke="#000" stroke-width="2.6"/>
<path d="M753.5,689.4V676.2" stroke="#000" stroke-width="3"/>
<path d="M818.2,689.4V682.5" stroke="#000" stroke-width="2.6"/>
<path d="M883.0,689.4V676.2" stroke="#000" stroke-width="3"/>
<g font-size="31"><text transform="translate(91.6,630.8) scale(0.935,1)" text-anchor="end">0.6</text><text transform="translate(91.6,494.9) scale(0.935,1)" text-anchor="end">0.8</text><text transform="translate(91.6,359.0) scale(0.935,1)" text-anchor="end">1.0</text><text transform="translate(91.6,223.1) scale(0.935,1)" text-anchor="end">1.2</text><text transform="translate(91.6,87.2) scale(0.935,1)" text-anchor="end">1.4</text><text transform="translate(106.1,726.3) scale(1.05,1)" text-anchor="middle">0</text><text transform="translate(235.7,726.3) scale(0.95,1)" text-anchor="middle">10</text><text transform="translate(365.2,726.3) scale(0.95,1)" text-anchor="middle">20</text><text transform="translate(494.7,726.3) scale(0.95,1)" text-anchor="middle">30</text><text transform="translate(624.3,726.3) scale(0.95,1)" text-anchor="middle">40</text><text transform="translate(753.9,726.3) scale(0.95,1)" text-anchor="middle">50</text><text transform="translate(883.4,726.3) scale(0.95,1)" text-anchor="middle">60</text></g>
<g font-size="31.3"><text x="207.1" y="54.8">CS</text><text x="331.1" y="54.8">GSS</text><text x="473.4" y="54.8">GCG15</text><text x="656.1" y="54.8">GCG30</text><text x="838.5" y="54.8">GCG45</text></g>
<text x="447.3" y="781" font-size="34.5"><tspan font-weight="bold">Instar</tspan><tspan font-size="36" dy="1"> (d)</tspan></text>
<text transform="translate(38.6,566) rotate(-90)" font-size="35.7"><tspan font-weight="bold">Indirect tensile strength</tspan><tspan dy="2"> (MPa)</tspan></text>
</svg>
</body></html>
